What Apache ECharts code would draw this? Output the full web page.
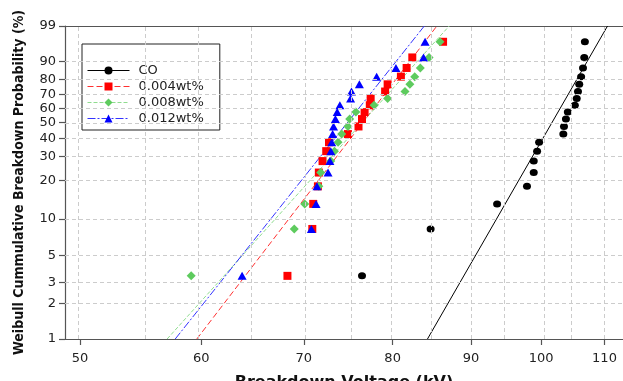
<!DOCTYPE html>
<html><head><meta charset="utf-8">
<script src="https://cdn.jsdelivr.net/npm/echarts@6/dist/echarts.min.js"></script>
<style>html,body{margin:0;padding:0;background:#fff}#c{width:623px;height:381px}</style>
</head><body><div id="c"></div>
<script>
// ---- data (voltages in kV, probabilities in %) ----
const seriesNames = ['CO', '0.004wt%', '0.008wt%', '0.012wt%'];
const probability = [3.4, 8.3, 13.2, 18.1, 23.0, 27.9, 32.8, 37.7, 42.6, 47.5, 52.5, 57.4, 62.3, 67.2, 72.1, 77.0, 81.9, 86.8, 91.7, 96.6];
const voltsCO   = [76.4, 84.7, 93.6, 97.9, 98.9, 98.9, 99.4, 99.7, 103.4, 103.5, 103.8, 104.1, 105.2, 105.5, 105.7, 105.9, 106.2, 106.5, 106.7, 106.8];
const volts004  = [68.3, 70.9, 71.0, 71.5, 71.6, 72.0, 72.4, 72.7, 74.8, 76.0, 76.4, 76.7, 77.3, 77.4, 79.1, 79.4, 81.0, 81.7, 82.4, 86.3];
const volts008  = [59.1, 69.0, 70.1, 71.6, 71.8, 72.9, 73.3, 73.7, 74.1, 74.8, 75.0, 75.7, 77.8, 79.4, 81.5, 82.1, 82.7, 83.4, 84.5, 85.9];
const volts012  = [63.8, 70.8, 71.3, 71.4, 72.6, 72.8, 72.9, 73.0, 73.1, 73.2, 73.4, 73.6, 73.9, 75.1, 75.2, 76.1, 78.1, 80.4, 83.8, 84.0];
// Weibull fit lines: voltage at the two probability ends
const fitProb   = [1, 99];
const fitCO     = [84.3, 110.5];
const fit004    = [59.6, 85.5];
const fit008    = [57.0, 87.1];
const fit012    = [57.7, 83.9];
// axes
const xTickLabels = [50, 60, 70, 80, 90, 100, 110];
const xGridValues = [50, 55, 60, 65, 70, 75, 80, 85, 90, 95, 100, 105, 110];
const yTickLabels = [1, 2, 3, 5, 10, 20, 30, 40, 50, 60, 70, 80, 90, 99];
const yGridValues = [2, 3, 5, 10, 20, 30, 40, 50, 60, 70, 80, 90];
const xRange = [48.89, 113.1];
const yRange = [1, 99];

// ---- Weibull probability-paper scales ----
const tx = v => Math.log(v);
const ty = p => Math.log(-Math.log(1 - p / 100));
const ix = t => Math.exp(t);
const iy = t => 100 * (1 - Math.exp(-Math.exp(t)));

const colors = ['#000000', '#ff0000', '#5ecb5e', '#0000ff'];
const symbols = ['circle', 'rect', 'diamond', 'triangle'];
const symSizes = [[8, 7], [8, 8], [9, 9], [9, 8]];
const dashes = ['solid', [6, 3], [4, 2], [8, 2, 2, 2]];
const lineColors = ['#000000', '#ff3030', '#8fdc8f', '#3333ff'];
const volts = [voltsCO, volts004, volts008, volts012];
const fits = [fitCO, fit004, fit008, fit012];

const tickFont = {fontFamily: 'DejaVu Sans', fontSize: 13, color: '#222'};
const axisLineStyle = {color: '#555', width: 1.2};

const series = [];
series.push({
  type: 'line', data: [], silent: true, z: 1,
  markLine: {
    silent: true, symbol: ['none', 'none'], animation: false,
    label: {show: false},
    lineStyle: {color: '#cccccc', type: [4, 3], width: 1},
    emphasis: {disabled: true},
    data: xGridValues.map(v => ({xAxis: tx(v)})).concat(yGridValues.map(p => ({yAxis: ty(p)})))
  }
});
fits.forEach((f, k) => {
  series.push({
    type: 'line', name: seriesNames[k], silent: true, z: 2,
    showSymbol: false, symbol: symbols[k], symbolSize: symSizes[k],
    data: f.map((v, i) => [tx(v), ty(fitProb[i])]),
    lineStyle: {color: lineColors[k], width: 1, type: dashes[k]},
    itemStyle: {color: colors[k]}
  });
});
volts.forEach((arr, k) => {
  series.push({
    type: 'scatter', name: seriesNames[k], z: 3,
    symbol: symbols[k], symbolSize: symSizes[k],
    data: arr.map((v, i) => [tx(v), ty(probability[i])]),
    itemStyle: {color: colors[k], opacity: 1}
  });
});

const chart = echarts.init(document.getElementById('c'), null, {renderer: 'canvas'});
chart.setOption({
  animation: false,
  backgroundColor: '#ffffff',
  grid: {left: 65, right: 0, top: 26, bottom: 42, containLabel: false, outerBoundsMode: 'none'},
  legend: {
    data: seriesNames, left: 82, top: 44, orient: 'vertical',
    backgroundColor: '#ffffff', borderColor: '#222', borderWidth: 1,
    padding: [20, 16, 5, 5], itemWidth: 42, itemHeight: 10, itemGap: 3,
    lineStyle: {width: 1},
    textStyle: {fontFamily: 'DejaVu Sans', fontSize: 13, color: '#222', padding: [0, 0, 0, 4]},
    selectedMode: false
  },
  xAxis: [{
    type: 'value', min: tx(xRange[0]), max: tx(xRange[1]),
    name: 'Breakdown Voltage (kV)', nameLocation: 'middle', nameGap: 36,
    nameTextStyle: {fontFamily: 'DejaVu Sans', fontWeight: 'bold', fontSize: 16, color: '#111'},
    axisLine: {show: true, onZero: false, lineStyle: axisLineStyle},
    axisTick: {show: true, length: 6, lineStyle: axisLineStyle, customValues: xTickLabels.map(tx)},
    axisLabel: Object.assign({show: true, margin: 13, customValues: xTickLabels.map(tx),
      formatter: v => String(Math.round(ix(v)))}, tickFont),
    splitLine: {show: false}
  }, {
    type: 'value', position: 'top', min: tx(xRange[0]), max: tx(xRange[1]),
    axisLine: {show: true, onZero: false, lineStyle: axisLineStyle},
    axisTick: {show: false}, axisLabel: {show: false}, splitLine: {show: false}
  }],
  yAxis: {
    type: 'value', min: ty(yRange[0]), max: ty(yRange[1]),
    name: 'Weibull Cummulative Breakdown Probability (%)', nameLocation: 'middle', nameGap: 39,
    nameTextStyle: {fontFamily: 'DejaVu Sans Condensed', fontWeight: 'bold', fontSize: 14, color: '#111'},
    axisLine: {show: true, onZero: false, lineStyle: axisLineStyle},
    axisTick: {show: true, length: 6, lineStyle: axisLineStyle, customValues: yTickLabels.map(ty)},
    axisLabel: Object.assign({show: true, margin: 9, customValues: yTickLabels.map(ty),
      formatter: v => String(Math.round(iy(v)))}, tickFont),
    splitLine: {show: false}
  },
  series: series
});
</script>
</body></html>
